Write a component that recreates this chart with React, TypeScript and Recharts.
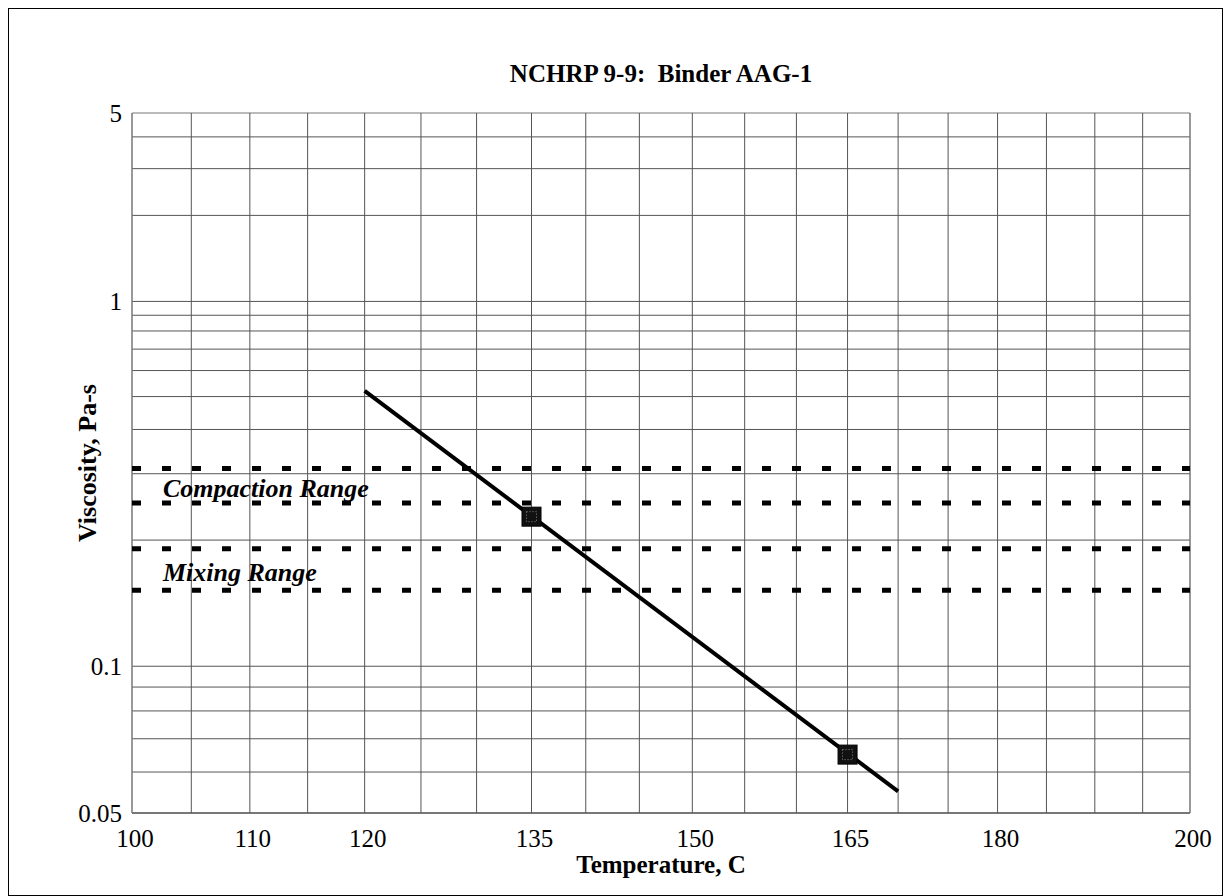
import React from 'react';
import {
  ComposedChart,
  Line,
  Scatter,
  XAxis,
  YAxis,
  ReferenceLine
} from 'recharts';

// temperature axis (deg C) – drawn on log(absolute T)
const tempTicks = [100, 110, 120, 135, 150, 165, 180, 200];
const gridTemps = [100, 105, 110, 115, 120, 125, 130, 135, 140, 145, 150, 155, 160, 165, 170, 175, 180, 185, 190, 195, 200];

// viscosity axis (Pa-s) – drawn on log(log(cP))
const viscTicks = [0.05, 0.1, 1, 5];
const viscTickLabels = ['0.05', '0.1', '1', '5'];
const gridViscs = [0.05, 0.06, 0.07, 0.08, 0.09, 0.1, 0.2, 0.3, 0.4, 0.5, 0.6, 0.7, 0.8, 0.9, 1, 2, 3, 4, 5];

// fitted line and measured points
const fitTemps = [120, 170];
const fitViscs = [0.52, 0.055];
const measTemps = [135, 165];
const measViscs = [0.23, 0.065];

// target ranges
const compactionRange = [0.25, 0.31];
const mixingRange = [0.15, 0.19];

const tx = (t: number) => Math.log10(t + 273.15);
const ty = (v: number) => Math.log10(Math.log10(v * 1000));

const fitData = fitTemps.map((t, i) => ({ x: tx(t), y: ty(fitViscs[i]) }));
const measData = measTemps.map((t, i) => ({ x: tx(t), y: ty(measViscs[i]) }));

const FONT = 'Liberation Serif, serif';

const SquareMarker = (props: any) => {
  const { cx, cy } = props;
  return (
    <g>
      <rect x={cx - 9.5} y={cy - 9.5} width={19} height={19} fill="#111" stroke="#000" strokeWidth={1} />
      <rect x={cx - 5} y={cy - 5} width={10} height={10} fill="none" stroke="#888" strokeWidth={1} strokeDasharray="1 2" />
    </g>
  );
};

const XTick = (props: any) => {
  const { x, y, payload } = props;
  return (
    <text x={x + 3} y={y} dy="0.71em" textAnchor="middle" fontFamily={FONT} fontSize={25} fill="#000">
      {String(Math.round(Math.pow(10, payload.value) - 273.15))}
    </text>
  );
};

const YTick = (props: any) => {
  const { x, y, payload } = props;
  let best = 0;
  viscTicks.forEach((t, i) => {
    if (Math.abs(ty(t) - payload.value) < Math.abs(ty(viscTicks[best]) - payload.value)) best = i;
  });
  return (
    <text x={x} y={y} dy="0.35em" textAnchor="end" fontFamily={FONT} fontSize={25} fill="#000">
      {viscTickLabels[best]}
    </text>
  );
};

const rangeLabel = (text: string, lift: number) => (props: any) => {
  const vb = props.viewBox || {};
  return (
    <text
      x={vb.x + 31}
      y={vb.y - lift}
      fontFamily={FONT}
      fontSize={26}
      fontWeight="bold"
      fontStyle="italic"
      fill="#000"
    >
      {text}
    </text>
  );
};

const App: React.FC = () => {
  return (
    <div style={{ position: 'relative', width: 1213, height: 886, border: '1px solid #000', background: '#fff' }}>
      <ComposedChart
        width={1213}
        height={886}
        margin={{ top: 0, right: 32, bottom: 20, left: 63 }}
      >
        <XAxis
          type="number"
          dataKey="x"
          domain={[tx(100), tx(200)]}
          ticks={tempTicks.map(tx)}
          interval={0}
          axisLine={false}
          tickLine={false}
          tickSize={0}
          tickMargin={16}
          height={62}
          allowDataOverflow
          tick={<XTick />}
          label={{
            value: 'Temperature, C',
            position: 'insideBottom',
            offset: 2,
            style: { fill: '#000', fontSize: 25, fontWeight: 'bold', fontFamily: FONT }
          }}
        />
        <XAxis
          xAxisId="title"
          orientation="top"
          type="number"
          domain={[0, 1]}
          ticks={[]}
          axisLine={false}
          tickLine={false}
          height={104}
          label={{
            value: 'NCHRP 9-9:\u00A0 Binder AAG-1',
            position: 'insideTop',
            offset: 55,
            style: { fill: '#000', fontSize: 25, fontWeight: 'bold', fontFamily: FONT }
          }}
        />
        <YAxis
          type="number"
          dataKey="y"
          domain={[ty(0.05), ty(5)]}
          ticks={viscTicks.map(ty)}
          interval={0}
          axisLine={false}
          tickLine={false}
          tickSize={0}
          tickMargin={10}
          width={60}
          allowDataOverflow
          tick={<YTick />}
          label={{
            value: 'Viscosity, Pa-s',
            angle: -90,
            position: 'insideLeft',
            offset: 15,
            style: { fill: '#000', fontSize: 26, fontWeight: 'bold', fontFamily: FONT, textAnchor: 'middle' }
          }}
        />

        {gridViscs.map((v) => (
          <ReferenceLine
            key={'h' + v}
            y={ty(v)}
            stroke={v === 0.05 || v === 5 ? '#777' : '#555'}
            strokeWidth={v === 0.05 ? 2 : 1}
          />
        ))}
        {gridTemps.map((t) => (
          <ReferenceLine
            key={'v' + t}
            x={tx(t)}
            stroke={t === 100 || t === 200 ? '#777' : '#555'}
            strokeWidth={t === 100 || t === 200 ? 1.5 : 1}
          />
        ))}

        <ReferenceLine y={ty(compactionRange[1])} stroke="#000" strokeWidth={5} strokeDasharray="9 21" />
        <ReferenceLine
          y={ty(compactionRange[0])}
          stroke="#000"
          strokeWidth={5}
          strokeDasharray="9 21"
          label={rangeLabel('Compaction Range', 6)}
        />
        <ReferenceLine y={ty(mixingRange[1])} stroke="#000" strokeWidth={5} strokeDasharray="9 21" />
        <ReferenceLine
          y={ty(mixingRange[0])}
          stroke="#000"
          strokeWidth={5}
          strokeDasharray="9 21"
          label={rangeLabel('Mixing Range', 9)}
        />

        <Line
          data={fitData}
          dataKey="y"
          type="linear"
          stroke="#000"
          strokeWidth={4}
          dot={false}
          activeDot={false}
          isAnimationActive={false}
        />
        <Scatter
          data={measData}
          dataKey="y"
          shape={SquareMarker}
          isAnimationActive={false}
        />
      </ComposedChart>
    </div>
  );
};

export default App;
